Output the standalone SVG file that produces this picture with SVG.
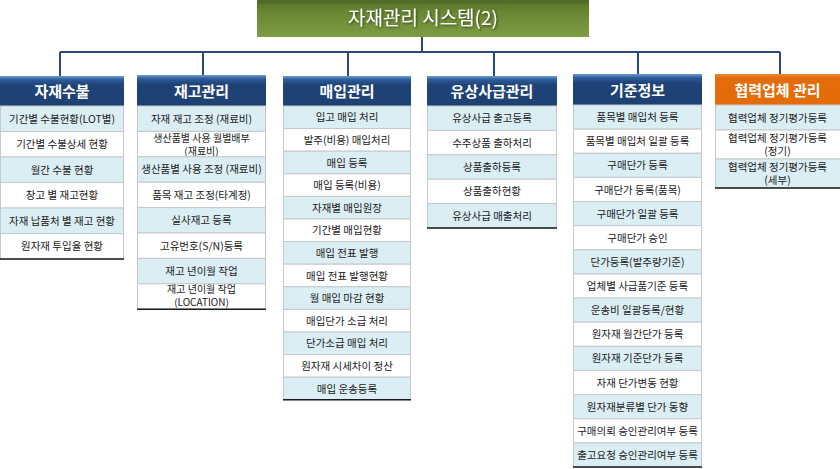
<svg xmlns="http://www.w3.org/2000/svg" width="840" height="469" viewBox="0 0 840 469">
<defs>
<linearGradient id="gTitle" x1="0" y1="0" x2="0" y2="1">
<stop offset="0" stop-color="#56722a"/>
<stop offset="0.35" stop-color="#6a8833"/>
<stop offset="1" stop-color="#7d9c43"/>
</linearGradient>
<linearGradient id="gBlue" x1="0" y1="0" x2="0" y2="1">
<stop offset="0" stop-color="#6c9bd6"/>
<stop offset="0.12" stop-color="#2f5c99"/>
<stop offset="0.3" stop-color="#1f4278"/>
<stop offset="1" stop-color="#1e4173"/>
</linearGradient>
<linearGradient id="gOrange" x1="0" y1="0" x2="0" y2="1">
<stop offset="0" stop-color="#f08a30"/>
<stop offset="0.12" stop-color="#e46c0a"/>
<stop offset="1" stop-color="#e36c09"/>
</linearGradient>
<filter id="sh" x="-10%" y="-30%" width="120%" height="160%">
<feDropShadow dx="1" dy="1" stdDeviation="0.8" flood-color="#203010" flood-opacity="0.8"/>
</filter>
</defs>
<style>
text{font-family:"Noto Sans CJK KR","Noto Sans",sans-serif;text-anchor:middle}
.t{font-size:10.5px;fill:#1a1a1a}
.t2{font-size:10px;fill:#1a1a1a}
.h{font-size:15px;font-weight:bold;fill:#ffffff}
.ttl{font-size:19px;fill:#ffffff}
.a{fill:#dbeef3;stroke:#c4c8cc;stroke-width:1}
.b{fill:#ffffff;stroke:#c4c8cc;stroke-width:1}
.hb{fill:url(#gBlue)}
.ho{fill:url(#gOrange)}
.bot{stroke:#1a1a1a;stroke-width:1.6}
.con{fill:none;stroke:#2b4a7c;stroke-width:2}
</style>

<g id="connectors">
<path class="con" d="M422,37 V52 M60,52 H780 M60,52 V76 M203,52 V75 M348,52 V76 M494,52 V76 M638,52 V74 M780,52 V74"/>
</g>

<g id="title">
<rect x="257" y="0" width="332" height="37" fill="url(#gTitle)"/>
<rect x="257" y="0" width="332" height="4" fill="#4e6824" opacity="0.6"/>
<text class="ttl" x="423" y="25" filter="url(#sh)">자재관리 시스템(2)</text>
</g>

<g id="col1">
<g id="h1"><rect class="hb" x="0" y="76" width="124" height="30"/><text class="h" x="62" y="97">자재수불</text></g>
<g id="c1-1"><rect class="a" x="0.5" y="106" width="123" height="25.5"/><text class="t" x="62" y="122.7">기간별 수불현황(LOT별)</text></g>
<g id="c1-2"><rect class="b" x="0.5" y="131.5" width="123" height="25.5"/><text class="t" x="62" y="148.2">기간별 수불상세 현황</text></g>
<g id="c1-3"><rect class="a" x="0.5" y="157" width="123" height="25.5"/><text class="t" x="62" y="173.7">월간 수불 현황</text></g>
<g id="c1-4"><rect class="b" x="0.5" y="182.5" width="123" height="25.5"/><text class="t" x="62" y="199.2">창고 별 재고현황</text></g>
<g id="c1-5"><rect class="a" x="0.5" y="208" width="123" height="25.5"/><text class="t" x="62" y="224.7">자재 납품처 별 재고 현황</text></g>
<g id="c1-6"><rect class="b" x="0.5" y="233.5" width="123" height="25.5"/><text class="t" x="62" y="250.2">원자재 투입율 현황</text></g>
<line class="bot" x1="0" y1="259" x2="124" y2="259"/>
</g>

<g id="col2">
<g id="h2"><rect class="hb" x="137" y="75" width="129" height="31"/><text class="h" x="201.5" y="96.5">재고관리</text></g>
<g id="c2-1"><rect class="a" x="137.5" y="106" width="128" height="25.4"/><text class="t" x="201.5" y="122.6">자재 재고 조정 (재료비)</text></g>
<g id="c2-2"><rect class="b" x="137.5" y="131.4" width="128" height="25.4"/><text class="t2" x="201.5" y="141.5"><tspan x="201.5">생산품별 사용 월별배부</tspan><tspan x="201.5" dy="13">(재료비)</tspan></text></g>
<g id="c2-3"><rect class="a" x="137.5" y="156.8" width="128" height="25.4"/><text class="t" x="201.5" y="173.4">생산품별 사용 조정 (재료비)</text></g>
<g id="c2-4"><rect class="b" x="137.5" y="182.2" width="128" height="25.4"/><text class="t" x="201.5" y="198.8">품목 재고 조정(타계정)</text></g>
<g id="c2-5"><rect class="a" x="137.5" y="207.6" width="128" height="25.4"/><text class="t" x="201.5" y="224.2">실사재고 등록</text></g>
<g id="c2-6"><rect class="b" x="137.5" y="233" width="128" height="25.4"/><text class="t" x="201.5" y="249.6">고유번호(S/N)등록</text></g>
<g id="c2-7"><rect class="a" x="137.5" y="258.4" width="128" height="25.4"/><text class="t" x="201.5" y="275">재고 년이월 작업</text></g>
<g id="c2-8"><rect class="b" x="137.5" y="283.8" width="128" height="25.4"/><text class="t2" x="201.5" y="293"><tspan x="201.5">재고 년이월 작업</tspan><tspan x="201.5" dy="12.5">(LOCATION)</tspan></text></g>
<line class="bot" x1="137" y1="309.2" x2="266" y2="309.2"/>
</g>

<g id="col3">
<g id="h3"><rect class="hb" x="283" y="76" width="128" height="30"/><text class="h" x="347" y="97">매입관리</text></g>
<g id="c3-1"><rect class="a" x="283.5" y="106" width="127" height="22.6"/><text class="t" x="347" y="121.3">입고 매입 처리</text></g>
<g id="c3-2"><rect class="b" x="283.5" y="128.6" width="127" height="22.6"/><text class="t" x="347" y="143.9">발주(비용) 매입처리</text></g>
<g id="c3-3"><rect class="a" x="283.5" y="151.2" width="127" height="22.6"/><text class="t" x="347" y="166.5">매입 등록</text></g>
<g id="c3-4"><rect class="b" x="283.5" y="173.8" width="127" height="22.6"/><text class="t" x="347" y="189.1">매입 등록(비용)</text></g>
<g id="c3-5"><rect class="a" x="283.5" y="196.4" width="127" height="22.6"/><text class="t" x="347" y="211.7">자재별 매입원장</text></g>
<g id="c3-6"><rect class="b" x="283.5" y="219" width="127" height="22.6"/><text class="t" x="347" y="234.3">기간별 매입현황</text></g>
<g id="c3-7"><rect class="a" x="283.5" y="241.6" width="127" height="22.6"/><text class="t" x="347" y="256.9">매입 전표 발행</text></g>
<g id="c3-8"><rect class="b" x="283.5" y="264.2" width="127" height="22.6"/><text class="t" x="347" y="279.5">매입 전표 발행현황</text></g>
<g id="c3-9"><rect class="a" x="283.5" y="286.8" width="127" height="22.6"/><text class="t" x="347" y="302.1">월 매입 마감 현황</text></g>
<g id="c3-10"><rect class="b" x="283.5" y="309.4" width="127" height="22.6"/><text class="t" x="347" y="324.7">매입단가 소급 처리</text></g>
<g id="c3-11"><rect class="a" x="283.5" y="332" width="127" height="22.6"/><text class="t" x="347" y="347.3">단가소급 매입 처리</text></g>
<g id="c3-12"><rect class="b" x="283.5" y="354.6" width="127" height="22.6"/><text class="t" x="347" y="369.9">원자재 시세차이 정산</text></g>
<g id="c3-13"><rect class="a" x="283.5" y="377.2" width="127" height="22.6"/><text class="t" x="347" y="392.5">매입 운송등록</text></g>
<line class="bot" x1="283" y1="399.8" x2="411" y2="399.8"/>
</g>

<g id="col4">
<g id="h4"><rect class="hb" x="427" y="76" width="130" height="30"/><text class="h" x="492" y="97">유상사급관리</text></g>
<g id="c4-1"><rect class="a" x="427.5" y="106" width="129" height="24.4"/><text class="t" x="492" y="122.2">유상사급 출고등록</text></g>
<g id="c4-2"><rect class="b" x="427.5" y="130.4" width="129" height="24.4"/><text class="t" x="492" y="146.6">수주상품 출하처리</text></g>
<g id="c4-3"><rect class="a" x="427.5" y="154.8" width="129" height="24.4"/><text class="t" x="492" y="171">상품출하등록</text></g>
<g id="c4-4"><rect class="b" x="427.5" y="179.2" width="129" height="24.4"/><text class="t" x="492" y="195.4">상품출하현황</text></g>
<g id="c4-5"><rect class="a" x="427.5" y="203.6" width="129" height="24.4"/><text class="t" x="492" y="219.8">유상사급 매출처리</text></g>
<line class="bot" x1="427" y1="228" x2="557" y2="228"/>
</g>

<g id="col5">
<g id="h5"><rect class="hb" x="573" y="74" width="129" height="31"/><text class="h" x="637.5" y="95.5">기준정보</text></g>
<g id="c5-1"><rect class="a" x="573.5" y="105" width="128" height="24.13"/><text class="t" x="637.5" y="121.1">품목별 매입처 등록</text></g>
<g id="c5-2"><rect class="b" x="573.5" y="129.13" width="128" height="24.13"/><text class="t" x="637.5" y="145.2">품목별 매입처 일괄 등록</text></g>
<g id="c5-3"><rect class="a" x="573.5" y="153.27" width="128" height="24.13"/><text class="t" x="637.5" y="169.3">구매단가 등록</text></g>
<g id="c5-4"><rect class="b" x="573.5" y="177.4" width="128" height="24.13"/><text class="t" x="637.5" y="193.5">구매단가 등록(품목)</text></g>
<g id="c5-5"><rect class="a" x="573.5" y="201.53" width="128" height="24.13"/><text class="t" x="637.5" y="217.6">구매단가 일괄 등록</text></g>
<g id="c5-6"><rect class="b" x="573.5" y="225.67" width="128" height="24.13"/><text class="t" x="637.5" y="241.7">구매단가 승인</text></g>
<g id="c5-7"><rect class="a" x="573.5" y="249.8" width="128" height="24.13"/><text class="t" x="637.5" y="265.9">단가등록(발주량기준)</text></g>
<g id="c5-8"><rect class="b" x="573.5" y="273.93" width="128" height="24.13"/><text class="t" x="637.5" y="290">업체별 사급품기준 등록</text></g>
<g id="c5-9"><rect class="a" x="573.5" y="298.07" width="128" height="24.13"/><text class="t" x="637.5" y="314.1">운송비 일괄등록/현황</text></g>
<g id="c5-10"><rect class="b" x="573.5" y="322.2" width="128" height="24.13"/><text class="t" x="637.5" y="338.3">원자재 월간단가 등록</text></g>
<g id="c5-11"><rect class="a" x="573.5" y="346.33" width="128" height="24.13"/><text class="t" x="637.5" y="362.4">원자재 기준단가 등록</text></g>
<g id="c5-12"><rect class="b" x="573.5" y="370.47" width="128" height="24.13"/><text class="t" x="637.5" y="386.5">자재 단가변동 현황</text></g>
<g id="c5-13"><rect class="a" x="573.5" y="394.6" width="128" height="24.13"/><text class="t" x="637.5" y="410.7">원자재분류별 단가 동향</text></g>
<g id="c5-14"><rect class="b" x="573.5" y="418.73" width="128" height="24.13"/><text class="t" x="637.5" y="434.8">구매의뢰 승인관리여부 등록</text></g>
<g id="c5-15"><rect class="a" x="573.5" y="442.87" width="128" height="24.13"/><text class="t" x="637.5" y="458.9">출고요청 승인관리여부 등록</text></g>
<line class="bot" x1="573" y1="467" x2="702" y2="467"/>
</g>

<g id="col6">
<g id="h6"><rect class="ho" x="715" y="74" width="125" height="31"/><text class="h" x="777.5" y="95.5">협력업체 관리</text></g>
<g id="c6-1"><rect class="a" x="715.5" y="105" width="125" height="25"/><text class="t" x="777.5" y="121.5">협력업체 정기평가등록</text></g>
<g id="c6-2"><rect class="b" x="715.5" y="130" width="125" height="29"/><text class="t" x="777.5" y="141.5"><tspan x="777.5">협력업체 정기평가등록</tspan><tspan x="777.5" dy="13">(정기)</tspan></text></g>
<g id="c6-3"><rect class="a" x="715.5" y="159" width="125" height="29"/><text class="t" x="777.5" y="170.5"><tspan x="777.5">협력업체 정기평가등록</tspan><tspan x="777.5" dy="13">(세부)</tspan></text></g>
<line class="bot" x1="715" y1="188" x2="840" y2="188"/>
</g>
</svg>
